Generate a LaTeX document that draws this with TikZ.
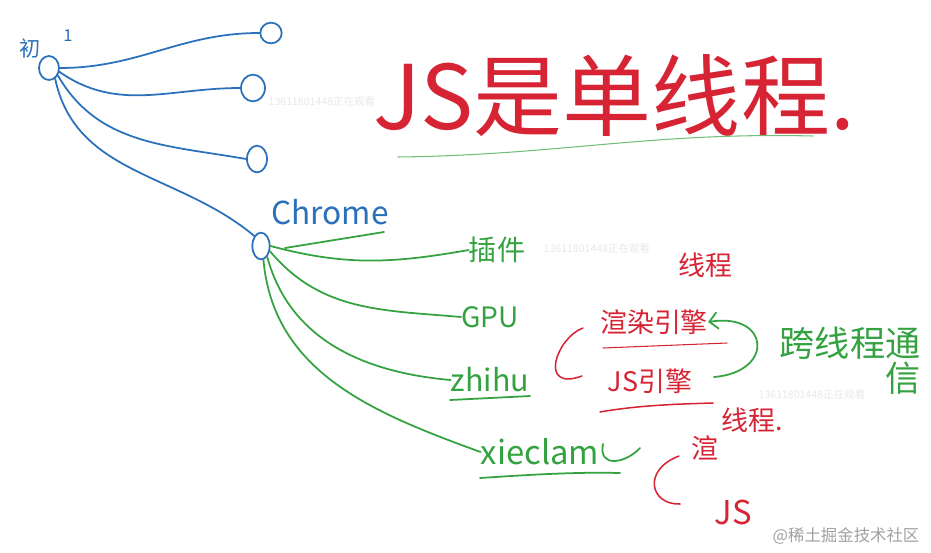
\documentclass[tikz,border=0pt]{standalone}
\usepackage{fontspec}
\newfontfamily\cjk{Noto Sans CJK SC}
\usetikzlibrary{arrows.meta, positioning, shapes.geometric}
\definecolor{penblue}{RGB}{42,112,186}
\definecolor{pengreen}{RGB}{52,162,64}
\definecolor{penred}{RGB}{214,36,52}
\definecolor{marklight}{RGB}{232,232,232}
\definecolor{markgrey}{RGB}{160,160,160}

\begin{document}
\begin{tikzpicture}[x=0.03cm, y=-0.03cm, line cap=round, line join=round,
  blueline/.style={draw=penblue, line width=1.5pt},
  greenline/.style={draw=pengreen, line width=1.5pt},
  redline/.style={draw=penred, line width=1.3pt},
  ring/.style={ellipse, draw=penblue, line width=1.5pt, inner sep=0pt},
  greentext/.style={text=pengreen, font=\cjk\fontsize{24}{28}\selectfont, inner sep=0pt},
  redtext/.style={text=penred, font=\cjk\fontsize{23}{27}\selectfont, inner sep=0pt},
  watermark/.style={text=marklight, font=\cjk\fontsize{9}{10}\selectfont, inner sep=0pt}]
\useasboundingbox (0,0) rectangle (931,552);
\node[watermark] (wm1) at (322,101) {13611801448正在观看};
\node[watermark] (wm2) at (597,248) {13611801448正在观看};
\node[watermark] (wm3) at (812,394) {13611801448正在观看};
\node[text=markgrey, font=\cjk\fontsize{14}{16}\selectfont, inner sep=0pt] (site) at (846,536) {@稀土掘金技术社区};
\node[text=penred, font=\cjk\fontsize{76}{80}\selectfont, inner sep=0pt] (title) at (614,96) {JS是单线程.};
\coordinate (titleL) at (398,157);
\coordinate (titleR) at (813,136);
\draw[draw=pengreen!70, line width=0.9pt] (titleL) .. controls (560,155) and (650,132) .. (titleR);
\node[text=penblue, font=\cjk\fontsize{18}{20}\selectfont, inner sep=0pt] (rootlabel) at (30,48) {初};
\node[text=penblue, font=\cjk\fontsize{14}{16}\selectfont, inner sep=0pt] (rootmark) at (68,36) {1};
\node[ring, minimum width=0.6cm, minimum height=0.72cm] (root) at (49,68) {};
\node[ring, minimum width=0.64cm, minimum height=0.62cm] (leafA) at (271,33) {};
\node[ring, minimum width=0.72cm, minimum height=0.8cm] (leafB) at (253,88) {};
\node[ring, minimum width=0.6cm, minimum height=0.8cm] (leafC) at (257,159) {};
\node[ring, minimum width=0.52cm, minimum height=0.8cm] (chrome) at (261,246) {};
\draw[blueline] (root.east) to[out=0, in=180] (leafA.west);
\draw[blueline] (root.-20) to[out=-35, in=180] (leafB.west);
\draw[blueline] (root.-40) to[out=-60, in=170] (leafC.west);
\draw[blueline] (root.-60) to[out=-78, in=140] (chrome.north west);
\node[text=penblue, font=\fontsize{27}{30}\selectfont\cjk, inner sep=0pt] (chrometext) at (330,212) {Chrome};
\coordinate (chromeL) at (285,248);
\coordinate (chromeR) at (384,232);
\draw[greenline] (chromeL) -- (chromeR);
\node[greentext] (plugin) at (497,250) {插件};
\node[greentext] (gpu) at (490,317) {GPU};
\node[greentext, font=\cjk\fontsize{26}{30}\selectfont] (zhihu) at (490,380) {zhihu};
\node[greentext, font=\cjk\fontsize{28}{32}\selectfont] (xieclam) at (540,452) {xieclam};
\draw[greenline] (chrome.east) to[out=-15, in=190] (plugin.west);
\draw[greenline] (chrome.-30) to[out=-50, in=175] (gpu.west);
\draw[greenline] (chrome.-60) to[out=-75, in=175] (zhihu.west);
\draw[greenline] (chrome.-80) to[out=-85, in=160] (xieclam.west);
\coordinate (zhihuL) at (450,400);
\coordinate (zhihuR) at (530,396);
\draw[greenline] (zhihuL) -- (zhihuR);
\coordinate (xieclamL) at (480,478);
\coordinate (xieclamR) at (620,473);
\draw[greenline] (xieclamL) .. controls (540,474) and (580,472) .. (xieclamR);
\coordinate (hookTop) at (603,444);
\coordinate (hookEnd) at (640,448);
\draw[greenline] (hookTop) .. controls (598,468) and (625,464) .. (hookEnd);
\node[redtext] (render) at (654,322) {渲染引擎};
\node[redtext] (jsengine) at (650,381) {JS引擎};
\node[redtext] (renderthread) at (705,265) {线程};
\node[redtext] (jsthread) at (752,420) {线程.};
\coordinate (renderL) at (603,348);
\coordinate (renderR) at (727,343);
\draw[redline, line width=0.9pt] (renderL) -- (renderR);
\coordinate (jsL) at (600,412);
\coordinate (jsR) at (713,403);
\draw[redline] (jsL) .. controls (640,405) and (680,404) .. (jsR);
\coordinate (zbTop) at (583,328);
\coordinate (zbBot) at (582,376);
\draw[redline] (zbTop) .. controls (556,338) and (538,392) .. (zbBot);
\node[redtext] (xrender) at (705,448) {渲};
\node[redtext, font=\cjk\fontsize{28}{32}\selectfont] (xjs) at (733,512) {JS};
\coordinate (xbTop) at (679,456);
\coordinate (xbBot) at (680,504);
\draw[redline] (xbTop) .. controls (642,470) and (650,505) .. (xbBot);
\coordinate (msgStart) at (714,377);
\draw[greenline, -{Straight Barb[length=2.5mm]}] (msgStart) .. controls (775,372) and (770,312) .. (render.east);
\node[greentext, font=\cjk\fontsize{30}{34}\selectfont] (message) at (850,343) {跨线程通};
\node[greentext, font=\cjk\fontsize{30}{34}\selectfont, below=2pt of message.south east, anchor=north east] (messageend) {信};
\end{tikzpicture}
\end{document}
